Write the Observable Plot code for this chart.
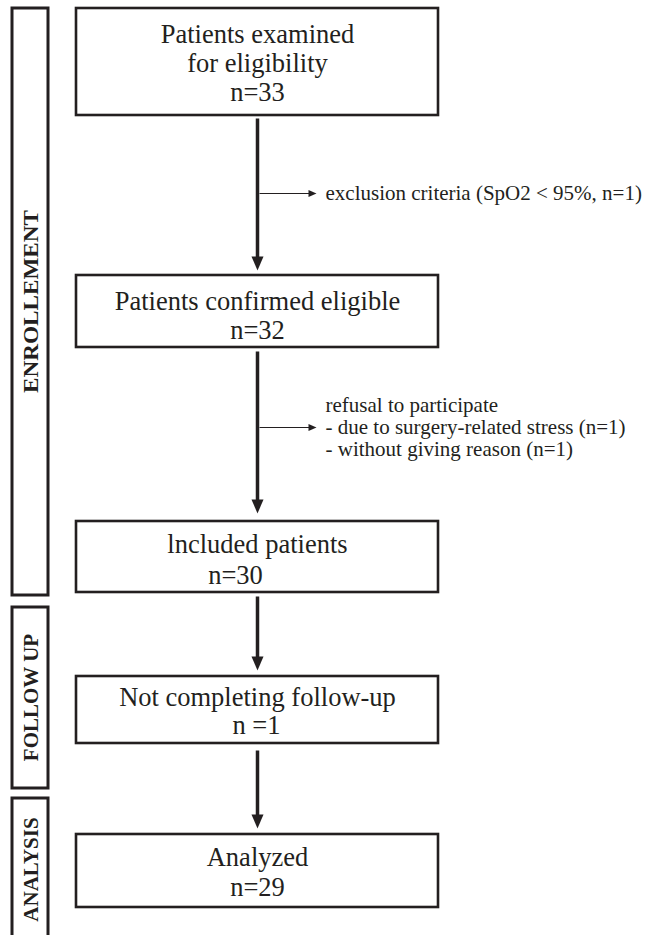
<!DOCTYPE html>
<html>
<head>
<meta charset="utf-8">
<script src="https://cdn.jsdelivr.net/npm/d3@7"></script>
<script src="https://cdn.jsdelivr.net/npm/@observablehq/plot@0.6"></script>
<style>
  html, body { margin: 0; padding: 0; background: #fff; overflow: hidden; }
  #chart svg { display: block; }
</style>
</head>
<body>
<div id="chart"></div>
<script>
// ---- content ----
const stageLabels = ["ENROLLEMENT", "FOLLOW UP", "ANALYSIS"];
const boxTexts = [
  ["Patients examined", "for eligibility", "n=33"],
  ["Patients confirmed eligible", "n=32"],
  ["lncluded patients", "n=30"],
  ["Not completing follow-up", "n =1"],
  ["Analyzed", "n=29"]
];
const exclusionTexts = [
  ["exclusion criteria (SpO2 < 95%, n=1)"],
  ["refusal to participate", "- due to surgery-related stress (n=1)", "- without giving reason (n=1)"]
];

// ---- layout (pixel positions of the diagram) ----
const stageTop = [8, 607, 798];
const stageBottom = [595, 788, 945];
const stageLabelY = [301, 697, 869];
const stageLabelLength = [183, null, null];
const boxTop = [8, 275, 521, 676, 834];
const boxBottom = [115, 347, 592, 743, 907];
const boxBaselines = [[42, 71, 100], [309, 338], [552, 583], [705, 733], [865, 895]];
const boxLineX = [[257, 257, 257], [257, 257], [257, 235], [257, 256], [257, 257]];
const arrowStart = [118, 351, 596, 750];
const arrowEnd = [270, 513, 670, 828];
const branchY = [193, 427];
const branchBaselines = [[199], [411, 433, 455]];

const ink = "#231f20";
const serif = "'Liberation Serif', 'Times New Roman', serif";
const boxX1 = 76, boxX2 = 438, spineX = 257, stageX1 = 12, stageX2 = 48;

const stages = stageLabels.map((label, i) => ({label, y1: stageTop[i], y2: stageBottom[i], ly: stageLabelY[i]}));
const boxes = boxTexts.map((lines, i) => ({y1: boxTop[i], y2: boxBottom[i]}));
const boxLines = boxTexts.flatMap((lines, i) => lines.map((t, j) => ({text: t, x: boxLineX[i][j], y: boxBaselines[i][j]})));
const arrows = arrowStart.map((s, i) => ({id: i, y1: s, y2: arrowEnd[i]}));
const headLen = 14, headHalf = 6;
const heads = arrows.flatMap(a => [
  {id: a.id, x: spineX - headHalf, y: a.y2 - headLen},
  {id: a.id, x: spineX + headHalf, y: a.y2 - headLen},
  {id: a.id, x: spineX, y: a.y2},
  {id: a.id, x: spineX - headHalf, y: a.y2 - headLen}
]);
const branchTip = 316;
const branches = branchY.map((y, i) => ({id: i, y}));
const bHeads = branches.flatMap(b => [
  {id: b.id, x: branchTip - 8, y: b.y - 3.5},
  {id: b.id, x: branchTip - 8, y: b.y + 3.5},
  {id: b.id, x: branchTip, y: b.y},
  {id: b.id, x: branchTip - 8, y: b.y - 3.5}
]);
const branchLines = exclusionTexts.flatMap((lines, i) => lines.map((t, j) => ({text: t, y: branchBaselines[i][j]})));

const chart = Plot.plot({
  width: 650,
  height: 935,
  margin: 0,
  x: {type: "linear", domain: [0, 650], range: [0, 650], axis: null},
  y: {type: "linear", domain: [0, 935], range: [0, 935], axis: null},
  style: {background: "#fff"},
  marks: [
    // stage boxes
    Plot.rect(stages, {x1: () => stageX1, x2: () => stageX2, y1: "y1", y2: "y2", fill: "none", stroke: ink, strokeWidth: 3}),
    Plot.text(stages, {x: () => (stageX1 + stageX2) / 2 + 1, y: "ly", text: "label", rotate: -90, fontFamily: serif, fontWeight: "bold", fontSize: 21, fill: ink, className: "stage-label"}),
    // main boxes
    Plot.rect(boxes, {x1: () => boxX1, x2: () => boxX2, y1: "y1", y2: "y2", fill: "none", stroke: ink, strokeWidth: 2.6}),
    Plot.text(boxLines, {x: "x", y: "y", text: "text", lineAnchor: "bottom", textAnchor: "middle", fontFamily: serif, fontSize: 26.5, fill: ink}),
    // main arrows
    Plot.link(arrows, {x1: () => spineX, x2: () => spineX, y1: "y1", y2: d => d.y2 - headLen + 1, stroke: ink, strokeWidth: 3.5}),
    Plot.line(heads, {x: "x", y: "y", z: "id", fill: ink, stroke: "none", curve: "linear"}),
    // branch arrows
    Plot.link(branches, {x1: () => spineX + 2, x2: () => branchTip - 6, y1: "y", y2: "y", stroke: ink, strokeWidth: 1.1}),
    Plot.line(bHeads, {x: "x", y: "y", z: "id", fill: ink, stroke: "none"}),
    Plot.text(branchLines, {x: () => 325, y: "y", text: "text", lineAnchor: "bottom", textAnchor: "start", fontFamily: serif, fontSize: 21, fill: ink})
  ]
});
// stretch the tall ENROLLEMENT label like the reference
d3.select(chart).selectAll(".stage-label text").each(function(d, i) {
  const len = stageLabelLength[i];
  if (len) d3.select(this).attr("textLength", len).attr("lengthAdjust", "spacingAndGlyphs");
});
document.getElementById("chart").appendChild(chart);
</script>
</body>
</html>
